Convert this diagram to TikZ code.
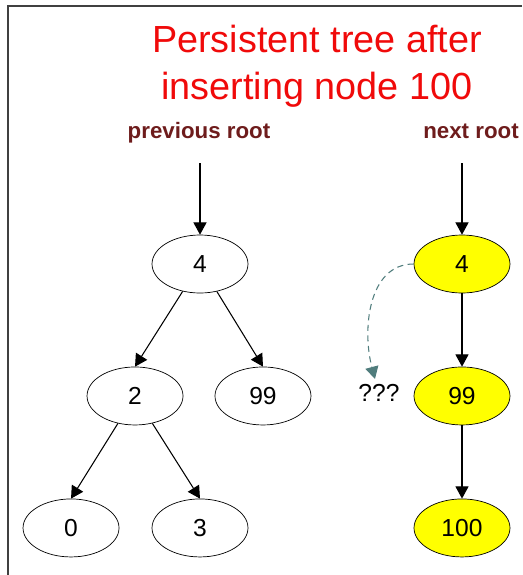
\documentclass[tikz,border=0pt]{standalone}
\usepackage{fontspec}
\setmainfont{Liberation Sans}
\usepackage{tikz}
\usetikzlibrary{arrows.meta,shapes.geometric,positioning}
\definecolor{titlered}{RGB}{240,10,10}
\definecolor{rootbrown}{RGB}{110,28,28}
\definecolor{dashteal}{RGB}{80,125,125}
\definecolor{newyellow}{RGB}{255,255,0}

\begin{document}
\begin{tikzpicture}[x=0.02cm,y=-0.02cm,->,>={Triangle[length=7pt,width=7.5pt]},
                    node distance=2.64cm,semithick]
  \tikzstyle{tnode}=[ellipse,draw=black,thin,fill=white,minimum width=1.92cm,
                     minimum height=1.16cm,inner sep=0pt,font=\fontsize{14}{16}\selectfont]
  \tikzstyle{newnode}=[tnode,fill=newyellow]
  \tikzstyle{rootlbl}=[anchor=base,text=rootbrown,font=\fontsize{12.7}{15}\selectfont\bfseries]
  \tikzstyle{ttl}=[anchor=base,text=titlered,font=\fontsize{21.5}{26}\selectfont]

  \useasboundingbox (0,0) rectangle (522,575);
  \draw[-,line width=1pt,black!75] (522,6) -- (8,6) -- (8,575);

  \node[ttl] (T1) at (317,52) {Persistent tree after};
  \node[ttl] (T2) at (317,99) {inserting node 100};
  \node[rootlbl] (prev) at (199,138) {previous root};
  \node[rootlbl] (next) at (471,138) {next root};

  % old tree
  \node[tnode] (A) at (200,264)            {4};
  \node[tnode] (B) [below of=A, xshift=-1.3cm] {2};
  \node[tnode] (C) [below of=A, xshift=1.26cm] {99};
  \node[tnode] (D) [below of=B, xshift=-1.28cm] {0};
  \node[tnode] (E) [below of=B, xshift=1.3cm]  {3};

  % new path
  \node[newnode] (AA) at (462,264)   {4};
  \node[newnode] (CC) [below of=AA]  {99};
  \node[newnode] (FF) [below of=CC]  {100};

  \node[font=\fontsize{14}{16}\selectfont,inner sep=1pt] (Q) at (379,393) {???};

  \coordinate (prevtop) at (200,163);
  \coordinate (nexttop) at (462,163);
  \coordinate (qtip) at (375,379);

  \path (prevtop) edge (A)
        (nexttop) edge (AA)
        (A) edge (B.north)
        (A) edge (C.north)
        (B) edge (D.north)
        (B) edge (E.north)
        (AA) edge (CC)
        (CC) edge (FF);
  \draw[dashteal,dash pattern=on 3.5pt off 2.5pt] (AA.west) .. controls (368,264) and (362,330) .. (qtip);
\end{tikzpicture}
\end{document}
